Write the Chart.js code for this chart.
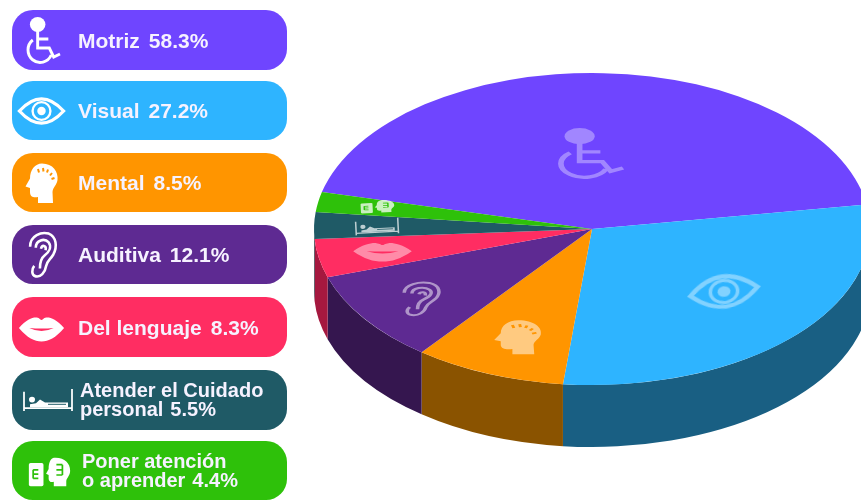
<!DOCTYPE html>
<html><head><meta charset="utf-8">
<script src="https://cdn.jsdelivr.net/npm/chart.js@4"></script>
<style>
html,body{margin:0;padding:0;background:#fff;width:861px;height:500px;overflow:hidden;font-family:"Liberation Sans",Arial,sans-serif}
#c{position:absolute;left:0;top:0}
.pill{position:absolute;left:12px;width:275px;border-radius:21px;color:#f6f2ff;font-weight:700;font-size:20px;line-height:19px;display:flex;align-items:center;box-sizing:border-box;filter:blur(.35px)}
.pill b{font-weight:700;margin-left:7px}
.pill.one{font-size:21px}
.pill.one b{margin-left:9px}
.ic{position:absolute;color:#fff;overflow:visible}
</style></head><body>
<svg width="0" height="0" style="position:absolute"><defs>
<symbol id="i0" viewBox="0 0 70 96" preserveAspectRatio="none" overflow="visible"><ellipse cx="24" cy="15" rx="16" ry="15" fill="currentColor"/><path d="M24 28V62H48L57 80L70 74M24 44H46M14 46A25 25 0 1 0 52 76" fill="none" stroke="currentColor" stroke-width="6"/></symbol>
<symbol id="i1" viewBox="0 0 100 60" preserveAspectRatio="none" overflow="visible"><path d="M3 30Q50 -22 97 30Q50 82 3 30Z" fill="none" stroke="currentColor" stroke-width="7"/><circle cx="50" cy="30" r="19" fill="none" stroke="currentColor" stroke-width="5"/><circle cx="50" cy="30" r="9" fill="currentColor"/></symbol>
<symbol id="i2" viewBox="0 0 70 84" preserveAspectRatio="none" overflow="visible"><path d="M36 3C58 3 69 20 67 36C65 47 58 50 57 60L58 82L28 82L28 70C20 72 12 70 12 60L12 52L3 49L12 33C12 16 22 3 36 3Z" fill="currentColor"/><path d="M28 14l2 7M38 12l1 7M48 15l-2 6M56 22l-4 5M61 32l-6 2" stroke="var(--bg)" stroke-width="4" fill="none"/></symbol>
<symbol id="i3" viewBox="0 0 60 92" preserveAspectRatio="none" overflow="visible"><path d="M6 30C6 8 28 1 42 5C57 11 59 30 51 45C45 55 39 57 37 67C35 80 26 89 17 87C8 85 9 73 14 67M17 32C17 17 34 13 42 22C48 30 43 40 34 47C26 53 25 62 25 72M27 34C29 26 38 27 36 37" fill="none" stroke="currentColor" stroke-width="5"/></symbol>
<symbol id="i4" viewBox="0 0 100 52" preserveAspectRatio="none" overflow="visible"><path d="M2 24C18 6 32 2 40 3C46 4 48 8 50 8C52 8 54 4 60 3C68 2 82 6 98 24C80 44 65 51 50 51C35 51 20 44 2 24Z" fill="currentColor"/><path d="M24 24Q50 36 76 24Q50 26 24 24Z" fill="var(--bg)"/></symbol>
<symbol id="i5" viewBox="0 0 100 50" preserveAspectRatio="none" overflow="visible"><path d="M2 8V48M98 2V48M2 42H98" fill="none" stroke="currentColor" stroke-width="3.5"/><circle cx="18" cy="24" r="6" fill="currentColor"/><path d="M14 34V40H90V30H44L34 24L26 32Z" fill="currentColor"/><path d="M50 34H86" stroke="var(--bg)" stroke-width="2"/></symbol>
<symbol id="i6" viewBox="0 0 100 70" preserveAspectRatio="none" overflow="visible"><rect x="2" y="14" width="34" height="54" rx="4" fill="currentColor"/><path d="M60 2C84 0 98 14 98 32C98 44 90 48 89 56V68H60V58C52 60 48 56 48 50V42L42 39L48 28C48 14 52 4 60 2Z" fill="currentColor"/><path d="M12 30h12M12 40h12M12 50h12M12 30v20M66 18h14M66 30h14M66 42h14M80 18v24" stroke="var(--bg)" stroke-width="4" fill="none"/></symbol>
</defs></svg>
<canvas id="c" width="861" height="500"></canvas>
<div id="legend"></div>
<script>
// Data
const categories = ["Motriz","Visual","Mental","Auditiva","Del lenguaje","Atender el Cuidado personal","Poner atención o aprender"];
const legendLines = [["Motriz"],["Visual"],["Mental"],["Auditiva"],["Del lenguaje"],["Atender el Cuidado","personal"],["Poner atención","o aprender"]];
const percentLabels = ["58.3%","27.2%","8.5%","12.1%","8.3%","5.5%","4.4%"];
const sliceDegrees = [157.3,105,31.8,34.2,14.3,10,7.4];
const topColors = ["#6f45ff","#2eb4ff","#ff9500","#5e2a92","#ff2d62","#1f5a66","#2ec10a"];
const sideColors = ["#4a2eaa","#195f83","#8a5300","#35164f","#a5183f","#123a42","#1a7a06"];
const pillTop = [10,81,153,225,297,370,441];
const pillHeight = [60,59,59,59,60,60,59];
const textLeft = [66,66,66,66,66,68,70];
const legendIcons = [[26,17,34,48],[18,97,47,28],[24,162,35,42],[27,231,31,48],[18,316,47,26],[23,388,50,24],[28,457,43,30]];
const pieIcons = [[557,128,66,52,0],[688,274,72,35,-8],[492,319,51,36,0],[400,281,42,36,0],[352,242,61,20,0],[355,218,44,17,-3],[360,200,35,13,-3]];
const iconOpacity = [.35,.4,.5,.5,.45,.7,.75];

const cx = 592, cy = 229, rx = 278, ry = 156, depth = 62, k = ry/rx;

const perspective3D = {
  id:'perspective3D',
  beforeDatasetsDraw(chart){
    const ctx = chart.ctx, meta = chart.getDatasetMeta(0);
    meta.data.forEach((arc,i)=>{
      let a0 = arc.startAngle, a1 = arc.endAngle;
      const segs = [];
      for(let t=-2;t<=2;t++){
        const lo = Math.max(a0, t*2*Math.PI), hi = Math.min(a1, t*2*Math.PI+Math.PI);
        if(hi>lo) segs.push([lo,hi]);
      }
      segs.forEach(([lo,hi])=>{
        ctx.beginPath();
        ctx.ellipse(arc.x,arc.y,rx,ry,0,lo,hi,false);
        ctx.ellipse(arc.x,arc.y+depth,rx,ry,0,hi,lo,true);
        ctx.closePath();
        ctx.fillStyle = sideColors[i];
        ctx.fill();
      });
    });
    ctx.save();
    const m = meta.data[0];
    ctx.translate(m.x,m.y); ctx.scale(1,k); ctx.translate(-m.x,-m.y);
  },
  afterDatasetsDraw(chart){ chart.ctx.restore(); }
};

new Chart(document.getElementById('c'),{
  type:'pie',
  data:{labels:categories,datasets:[{data:sliceDegrees,backgroundColor:topColors,borderWidth:0,clip:false}]},
  options:{
    responsive:false,animation:false,
    rotation:283.7,
    radius:rx,
    layout:{padding:{left:2*cx-861,bottom:500-2*cy}},
    plugins:{legend:{display:false},tooltip:{enabled:false}},
    events:[]
  },
  plugins:[perspective3D]
});

const NS='http://www.w3.org/2000/svg';
function icon(id,box,bg,op){
  const s=document.createElementNS(NS,'svg');
  s.setAttribute('class','ic');
  s.setAttribute('width',box[2]);s.setAttribute('height',box[3]);
  s.setAttribute('viewBox',`0 0 ${box[2]} ${box[3]}`);
  s.style.left=box[0]+'px';s.style.top=box[1]+'px';
  s.style.setProperty('--bg',bg);
  s.style.opacity=op;
  if(box[4])s.style.transform=`rotate(${box[4]}deg)`;
  const u=document.createElementNS(NS,'use');
  u.setAttribute('href','#i'+id);u.setAttribute('width',box[2]);u.setAttribute('height',box[3]);
  s.appendChild(u);document.body.appendChild(s);
}
const legend=document.getElementById('legend');
categories.forEach((c,i)=>{
  const p=document.createElement('div');p.className='pill'+(legendLines[i].length===1?' one':'');
  p.style.top=pillTop[i]+'px';p.style.height=pillHeight[i]+'px';p.style.background=topColors[i];
  p.style.paddingLeft=textLeft[i]+'px';
  const ls=legendLines[i];
  const wrap=document.createElement('div');
  ls.forEach((l,j)=>{
    const d=document.createElement('div');d.textContent=l;
    if(j===ls.length-1){const b=document.createElement('b');b.textContent=percentLabels[i];d.appendChild(b);}
    wrap.appendChild(d);
  });
  p.appendChild(wrap);legend.appendChild(p);
  icon(i,legendIcons[i],topColors[i],1);
  icon(i,pieIcons[i],topColors[i],iconOpacity[i]);
});
</script>
</body></html>
